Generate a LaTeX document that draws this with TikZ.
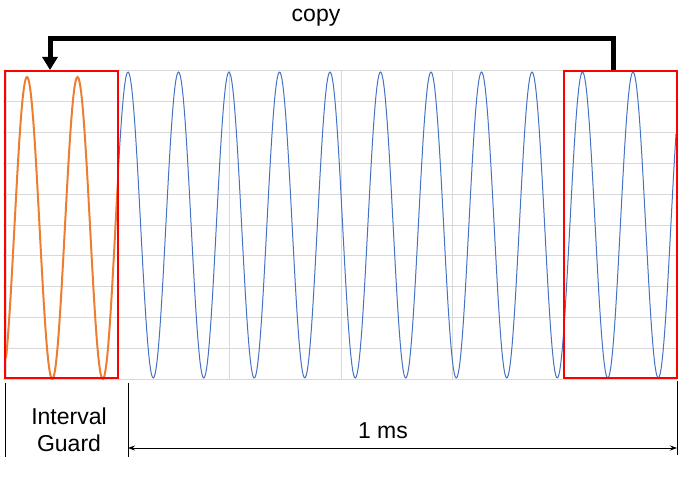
\documentclass[tikz,border=0pt]{standalone}
\usepackage{fontspec}
\setmainfont{Liberation Sans}
\usetikzlibrary{arrows.meta, positioning}
\definecolor{XLBlue}{RGB}{68,114,196}
\definecolor{XLOrange}{RGB}{237,125,49}
\definecolor{XLGrid}{RGB}{217,217,217}

\begin{document}
\begin{tikzpicture}[x=1pt, y=-1pt,
      cpbox/.style={draw=red, line width=2pt, inner sep=0pt,
                    minimum width=113pt, minimum height=307pt},
      copyarr/.style={-{Triangle[length=13pt, width=15pt]}, line width=5pt},
      dimarr/.style={{Stealth[length=7pt, width=5pt]}-{Stealth[length=7pt, width=5pt]},
                     line width=0.8pt},
      lbl/.style={font=\fontsize{23}{27}\selectfont, align=center, inner sep=0pt}
    ]
    \useasboundingbox (0,0) rectangle (693,497);

    % chart grid
    \foreach \k in {0,...,10}
      \draw[XLGrid, line width=1pt] (3,71+30.8*\k) -- (677,71+30.8*\k);
    \foreach \k in {0,...,6}
      \draw[XLGrid, line width=1pt] (6+111.67*\k,71) -- (6+111.67*\k,379);

    % symbol and cyclic prefix
    \draw[XLBlue, line width=1pt] plot[domain=118:676, samples=600]
          (\x, {225-153*cos((\x-229)/50.5*360)});
    \draw[XLOrange, line width=2pt] plot[domain=6:118, samples=150]
          (\x, {228-151*cos((\x-229)/50.5*360)});

    \node[cpbox] (guard) at (61.5,224.5) {};
    \node[cpbox] (tail)  at (620,224.5)  {};

    \draw[copyarr] ([xshift=-7pt]tail.north) -- ++(0,-31)
          -| ([xshift=-11.5pt]guard.north);
    \node[lbl] (copylbl) at (316,18) {copy};

    % time axis
    \coordinate (gL) at (5,383);
    \coordinate (gR) at (128,383);
    \coordinate (sR) at (677,381);
    \draw[line width=0.8pt] (gL) -- ++(0,74);
    \draw[line width=0.8pt] (gR) -- ++(0,74);
    \draw[line width=0.8pt] (sR) -- ++(0,74);

    \coordinate (msA) at (128,448);
    \coordinate (msB) at (677,448);
    \draw[dimarr] (msA) -- (msB);

    \node[lbl] (mslbl) at (383,431) {1 ms};
    \node[lbl] (gilbl) at (69,430) {Interval\\Guard};
  \end{tikzpicture}
\end{document}
